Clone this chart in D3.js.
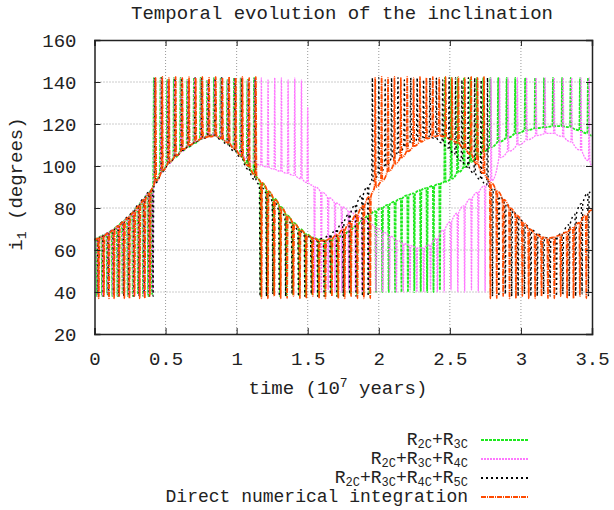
<!DOCTYPE html>
<html>
<head>
<meta charset="utf-8">
<script src="https://cdn.jsdelivr.net/npm/d3@7"></script>
<style>
body { margin: 0; background: #fff; }
text { font-family: "Courier New", Courier, "Nimbus Mono PS", FreeMono, "Liberation Mono", monospace; fill: #222; }
</style>
</head>
<body>
<div id="chart"></div>
<script>
// one entry per oscillation: [time (1e7 yr), slow-phase value, spike value] in degrees
var xTicks = [0, 0.5, 1, 1.5, 2, 2.5, 3, 3.5];
var yTicks = [20, 40, 60, 80, 100, 120, 140, 160];
var seriesNames = ["R_{2C}+R_{3C}", "R_{2C}+R_{3C}+R_{4C}", "R_{2C}+R_{3C}+R_{4C}+R_{5C}", "Direct numerical integration"];

var greenCycles = [[0,65,65],[0.018,65.5,38],[0.054,66.5,38],[0.09,67.5,39],[0.126,69,38],[0.162,71,38],[0.198,73,39],[0.234,75,38],[0.27,77.5,38],[0.306,80.5,39],[0.342,83.5,38],[0.378,86.5,38],[0.405,88.5,39],
[0.418,92,142],[0.465,97,142],[0.512,101,141],[0.559,104,142],[0.606,107,142],[0.653,109,141],[0.7,111,142],[0.747,113,142],[0.794,114.5,141],[0.841,115,142],[0.888,113.5,142],[0.935,111.5,141],[0.982,109,142],[1.029,105.5,142],[1.076,101,141],[1.123,96.5,142],
[1.17,92,38],[1.215,88,38],[1.26,84.5,39],[1.305,80.5,38],[1.35,76.5,38],[1.395,73,39],[1.44,70,38],[1.485,67.5,38],[1.53,66,39],[1.575,65,38],[1.62,64.5,38],[1.665,64.5,39],[1.71,65.5,38],[1.755,67,38],[1.8,69,39],[1.845,71.5,39],[1.89,74,39],[1.935,76.5,39],[1.98,78.5,40],[2.025,80,40],[2.07,81.5,40],[2.115,83,40],[2.16,84.5,40],[2.205,86,40],[2.25,87,40],[2.295,88.5,40],[2.34,89.5,40],[2.385,90.5,40],[2.43,91.5,41],
[2.465,92.5,142],[2.51,94,142],[2.555,97,142],[2.6,99.5,142],[2.645,102,142],[2.69,104.5,142],[2.735,107,142],[2.785,109,142],[2.84,111.5,142],[2.9,113.5,142],[2.96,115.5,142],[3.03,117,142],[3.1,118,142],[3.163,118.5,142],[3.226,119,142],[3.29,119,142],[3.35,118.5,142],[3.416,117,142],[3.472,115.5,142],[3.5,114.5,114.5]];

var pinkCycles = [[0,65,65],[0.022,65.5,38],[0.058,66.5,38],[0.094,68,39],[0.13,69.5,38],[0.166,71,38],[0.202,73,39],[0.238,75.5,38],[0.274,78,38],[0.31,81,39],[0.346,84,38],[0.382,87,39],[0.409,88.5,40],
[0.422,92,142],[0.469,97,142],[0.516,101,141],[0.563,104.5,142],[0.61,107,142],[0.657,109.5,141],[0.704,111.5,142],[0.751,113,142],[0.798,115,141],[0.845,115,142],[0.892,113.5,142],[0.939,111.5,141],[0.986,109,142],[1.033,106,142],[1.08,103.5,141],[1.127,101.5,142],[1.174,100.5,142],[1.221,99.5,141],[1.268,98.5,142],[1.315,97.5,142],[1.362,96.5,141],[1.409,95.5,142],[1.456,94,141],[1.5,92,128],
[1.548,90,40],[1.596,87.5,40],[1.644,85,41],[1.692,82.5,40],[1.74,80.5,40],[1.788,78.5,41],[1.836,76.5,40],[1.884,74.5,40],[1.932,72.5,41],[1.98,70.5,40],[2.028,68.5,40],[2.076,66.5,41],[2.124,64.5,40],[2.172,63,40],[2.22,62,41],[2.268,61,40],[2.316,61,40],[2.364,62.5,41],[2.412,65.5,40],[2.46,69.5,40],[2.508,73.5,41],[2.556,77.5,40],[2.604,81,40],[2.652,84.5,41],[2.7,87.5,40],[2.748,90.5,40],
[2.79,93,142],[2.85,104,142],[2.91,107,142],[2.975,110,142],[3.04,112.5,142],[3.107,114.5,142],[3.17,115.5,142],[3.234,115.5,142],[3.297,114,142],[3.357,111.5,142],[3.423,107.5,142],[3.48,102.5,142],[3.5,100.5,100.5]];

var blackCycles = [[0,65,65],[0.026,65.5,39],[0.062,67,38],[0.098,68,38],[0.134,69.5,39],[0.17,71.5,38],[0.206,73.5,38],[0.242,76,39],[0.278,78.5,38],[0.314,81.5,38],[0.35,84.5,39],[0.386,87.5,38],[0.412,89,38],
[0.426,92,142],[0.473,97.5,142],[0.52,101.5,141],[0.567,104.5,142],[0.614,107.5,142],[0.661,109.5,141],[0.708,111.5,142],[0.755,113,142],[0.802,114.5,141],[0.849,114.5,142],[0.896,112.5,142],[0.943,110,141],[0.99,107,142],[1.037,104,142],[1.084,98.5,141],[1.131,93.5,142],
[1.165,90,38],[1.21,87,38],[1.255,83,39],[1.3,79,38],[1.345,75,38],[1.39,71.5,39],[1.435,69,38],[1.48,67,38],[1.525,65.5,39],[1.57,65,38],[1.615,65.5,38],[1.66,67,39],[1.705,69.5,38],[1.75,73,38],[1.795,77,39],[1.84,81.5,38],[1.885,86,38],[1.925,90,38],
[1.955,93,142],[2.0,96.5,142],[2.045,100,141],[2.09,103.5,142],[2.135,106.5,142],[2.18,109,141],[2.225,111,142],[2.27,112.5,142],[2.315,113.5,141],[2.36,114,142],[2.405,113,142],[2.45,111,141],[2.495,108.5,142],[2.54,105.5,142],[2.585,102.5,141],[2.63,99.5,142],[2.675,96.5,142],[2.72,93.5,141],[2.765,91,142],
[2.8,89,38],[2.845,85.5,38],[2.89,82,39],[2.935,78.5,38],[2.98,75,38],[3.025,72,39],[3.07,69.5,38],[3.115,67.5,38],[3.16,66,39],[3.205,65.5,38],[3.25,66,38],[3.295,68,39],[3.34,72,38],[3.385,77,38],[3.43,82,39],[3.475,87,38],[3.5,88,88]];

var orangeCycles = [[0,65,65],[0.03,65.5,37],[0.066,66.5,38],[0.102,68,37],[0.138,69.5,37],[0.174,71.5,38],[0.21,73.5,37],[0.246,75.5,37],[0.282,78,38],[0.318,81,37],[0.354,84,37],[0.39,87,38],
[0.43,93,142],[0.477,98,142.5],[0.524,102,142],[0.571,105,142.5],[0.618,108,142],[0.665,110,142.5],[0.712,112,142],[0.759,113.5,142.5],[0.806,114,142],[0.853,114.5,142.5],[0.9,113,142],[0.947,111,142.5],[0.994,108,142],[1.041,104.5,142.5],[1.088,100,142],[1.135,95.5,142.5],
[1.175,92,37],[1.22,88,37],[1.265,84,38],[1.31,80,37],[1.355,76,37],[1.4,72.5,38],[1.445,69.5,37],[1.49,67,37],[1.535,65.5,38],[1.58,64.5,37],[1.625,64.5,37],[1.67,65.5,38],[1.715,67.5,37],[1.76,70,37],[1.805,73,38],[1.85,77,37],[1.895,81,37],[1.94,85.5,37],
[1.975,90,142],[2.02,93,142.5],[2.065,97.5,142],[2.11,101,142.5],[2.155,104,142],[2.2,107,142.5],[2.245,109.5,142],[2.29,111.5,142.5],[2.335,113,142],[2.38,114,142.5],[2.425,114.5,142],[2.47,114,142.5],[2.515,112.5,142],[2.56,111,142.5],[2.605,108.5,142],[2.65,105.5,142.5],[2.695,101,142],[2.74,96.5,142.5],
[2.785,92,37],[2.83,88,37],[2.875,84,38],[2.92,80,37],[2.965,76.5,37],[3.01,73,38],[3.055,70,37],[3.1,67.5,37],[3.145,66,38],[3.19,65.5,37],[3.235,66,37],[3.28,67,38],[3.325,68.5,37],[3.37,70.5,37],[3.415,73,38],[3.46,76.5,37],[3.5,79,79]];

var allSeries = [greenCycles, pinkCycles, blackCycles, orangeCycles];
var colors = ["#1ee81e", "#ff77ff", "#000000", "#ff4a00"];
var dashes = ["3,1", "2,1", "2,3", "5,1,1,1"];
var widths = [1.8, 1.3, 1.4, 1.7];
var spikeHalf = 0.7;

var svg = d3.select("#chart").append("svg").attr("width", 614).attr("height", 510);
var x = d3.scaleLinear().domain([0, 3.5]).range([94.5, 592]);
var y = d3.scaleLinear().domain([20, 160]).range([334, 40]);

// small helper for _{sub} and ^{sup}
function rich(t, str, small, down) {
  var shift = 0;
  str.split(/([_^]\{[^}]*\})/).forEach(function(p) {
    if (!p) return;
    if (p[0] == "_" || p[0] == "^") {
      var d = p[0] == "_" ? down : -7;
      t.append("tspan").attr("dy", d - shift).style("font-size", small).text(p.slice(2, -1));
      shift = d;
    } else {
      t.append("tspan").attr("dy", -shift).text(p);
      shift = 0;
    }
  });
}

// grid
svg.append("g").selectAll("line").data(yTicks.slice(1, -1)).enter().append("line")
  .attr("x1", x(0)).attr("x2", x(3.5)).attr("y1", function(d) { return y(d); }).attr("y2", function(d) { return y(d); })
  .attr("stroke", "#999").attr("stroke-dasharray", "1,2");
svg.append("g").selectAll("line").data(xTicks.slice(1, -1)).enter().append("line")
  .attr("y1", y(20)).attr("y2", y(160)).attr("x1", function(d) { return x(d); }).attr("x2", function(d) { return x(d); })
  .attr("stroke", "#999").attr("stroke-dasharray", "1,2");

svg.append("clipPath").attr("id", "clip").append("rect")
  .attr("x", x(0)).attr("y", y(160)).attr("width", x(3.5) - x(0)).attr("height", y(20) - y(160));

// each oscillation: slow part, narrow spike, back to slow part
function cyclePath(c) {
  var pts = [];
  c.forEach(function(d) {
    pts.push([x(d[0]) - spikeHalf, y(d[1])], [x(d[0]), y(d[2])], [x(d[0]) + spikeHalf, y(d[1])]);
  });
  return d3.line().curve(d3.curveMonotoneX)(pts);
}
svg.append("g").attr("clip-path", "url(#clip)").selectAll("path").data(allSeries).enter().append("path")
  .attr("d", cyclePath).attr("fill", "none")
  .attr("stroke", function(d, i) { return colors[i]; })
  .attr("stroke-width", function(d, i) { return widths[i]; })
  .attr("stroke-dasharray", function(d, i) { return dashes[i]; });

// axes
var fmt = function(d) { return String(d); };
svg.append("g").attr("transform", "translate(0," + y(20) + ")")
  .call(d3.axisBottom(x).tickValues(xTicks).tickFormat(fmt).tickSize(-6).tickPadding(18));
svg.append("g").attr("transform", "translate(0," + y(160) + ")")
  .call(d3.axisTop(x).tickValues(xTicks).tickFormat("").tickSize(-6));
svg.append("g").attr("transform", "translate(" + x(0) + ",0)")
  .call(d3.axisLeft(y).tickValues(yTicks).tickFormat(fmt).tickSize(-6).tickPadding(18));
svg.append("g").attr("transform", "translate(" + x(3.5) + ",0)")
  .call(d3.axisRight(y).tickValues(yTicks).tickFormat("").tickSize(-6));
svg.selectAll(".domain").attr("stroke", "#222").attr("stroke-width", 1.5);
svg.selectAll(".tick line").attr("stroke", "#222");
svg.selectAll(".tick text").style("font-size", "19px").attr("fill", "#222");

svg.append("text").attr("x", 342).attr("y", 19).attr("text-anchor", "middle").style("font-size", "19px")
  .text("Temporal evolution of the inclination");
rich(svg.append("text").attr("x", 338).attr("y", 394).attr("text-anchor", "middle").style("font-size", "19px"),
  "time (10^{7} years)", "13px", 4);
rich(svg.append("text").attr("transform", "translate(22,184) rotate(-90)").attr("text-anchor", "middle").style("font-size", "19px"),
  "i_{1} (degrees)", "13px", 4);

// legend
var leg = svg.selectAll(".legend").data(seriesNames).enter().append("g")
  .attr("class", "legend")
  .attr("transform", function(d, i) { return "translate(0," + (440 + i * 19) + ")"; });
leg.append("line").attr("x1", 481).attr("x2", 528)
  .attr("stroke", function(d, i) { return colors[i]; })
  .attr("stroke-width", 2)
  .attr("stroke-dasharray", function(d, i) { return dashes[i]; });
leg.each(function(d) {
  var t = d3.select(this).append("text").attr("x", 468).attr("y", 5).attr("text-anchor", "end").style("font-size", "18px");
  rich(t, d, "12px", 3);
});
</script>
</body>
</html>
